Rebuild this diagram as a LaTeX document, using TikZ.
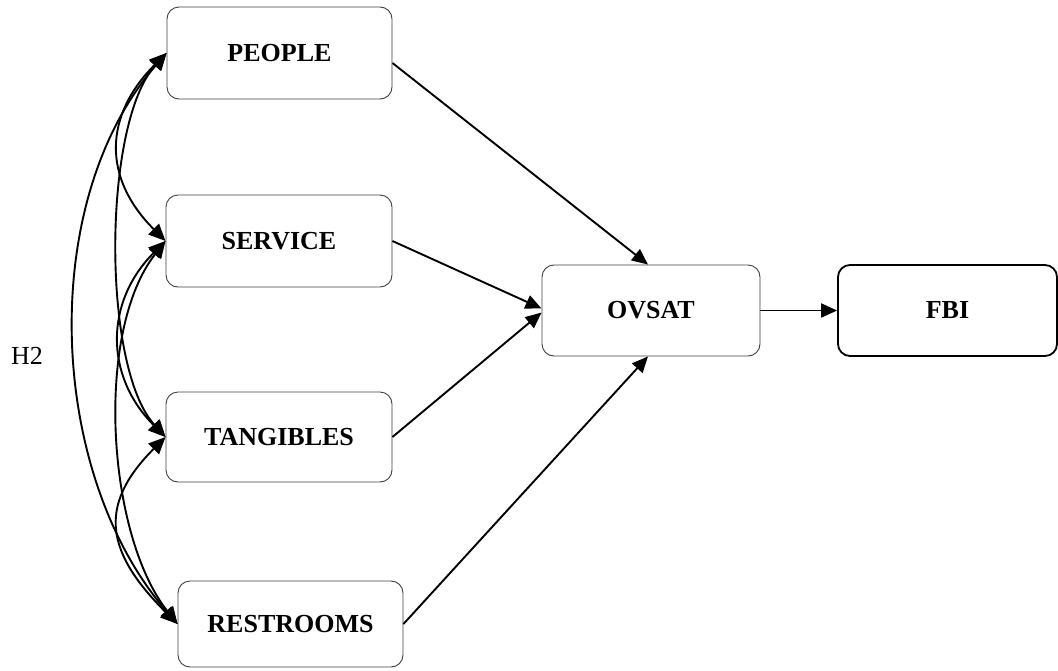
\documentclass[tikz,border=0pt]{standalone}
\usepackage{fontspec}
\setmainfont{Liberation Serif}
\usetikzlibrary{arrows.meta,calc}
\begin{document}
\begin{tikzpicture}[x=1pt,y=-1pt,
  box/.style={draw=black!75, line width=0.9pt, rounded corners=12pt, inner sep=0pt,
    font=\fontsize{26}{30}\selectfont\bfseries, align=center},
  path/.style={line width=1.9pt, -{Triangle[length=16pt,width=14pt]}},
  cov/.style={line width=1.9pt, {Triangle[length=17pt,width=15pt]}-{Triangle[length=17pt,width=15pt]}}]

\useasboundingbox (0,0) rectangle (1058,670);

% constructs
\node[box, minimum width=225pt, minimum height=92pt] (people)    at (279.5,53)  {PEOPLE};
\node[box, minimum width=226pt, minimum height=92pt] (service)   at (279,241)   {SERVICE};
\node[box, minimum width=226pt, minimum height=90pt] (tangibles) at (279,437)   {TANGIBLES};
\node[box, minimum width=225pt, minimum height=86pt] (restrooms) at (290.5,624) {RESTROOMS};
\node[box, minimum width=218pt, minimum height=91pt] (ovsat)     at (651,310.5) {OVSAT};
\node[box, draw=black, line width=1.8pt, minimum width=219pt, minimum height=91pt] (fbi) at (947.5,310.5) {FBI};

\node[font=\fontsize{26}{30}\selectfont] (h2) at (27,356) {H2};

% structural paths
\draw[path] ([yshift=-10pt]people.east) -- ([xshift=-3pt]ovsat.north);
\draw[path] (service.east) -- ([yshift=2pt]ovsat.west);
\draw[path] (tangibles.east) -- ([yshift=-2pt]ovsat.west);
\draw[path] (restrooms.east) -- ([xshift=-3pt]ovsat.south);
\draw[path] (ovsat.east) -- (fbi.west);

% correlations among the exogenous constructs
\draw[cov] (people.west) .. controls ($(people.west)+(-63,63)$) and ($(service.west)+(-63,-63)$) .. (service.west);
\draw[cov] (people.west) .. controls ($(people.west)+(-64,70)$) and ($(tangibles.west)+(-64,-70)$) .. (tangibles.west);
\draw[cov] (people.west) .. controls ($(people.west)+(-130,150)$) and ($(restrooms.west)+(-130,-150)$) .. (restrooms.west);
\draw[cov] (service.west) .. controls ($(service.west)+(-61,61)$) and ($(tangibles.west)+(-61,-61)$) .. (tangibles.west);
\draw[cov] (service.west) .. controls ($(service.west)+(-71,90)$) and ($(restrooms.west)+(-71,-90)$) .. (restrooms.west);
\draw[cov] (tangibles.west) .. controls ($(tangibles.west)+(-70,70)$) and ($(restrooms.west)+(-70,-70)$) .. (restrooms.west);
\end{tikzpicture}
\end{document}
